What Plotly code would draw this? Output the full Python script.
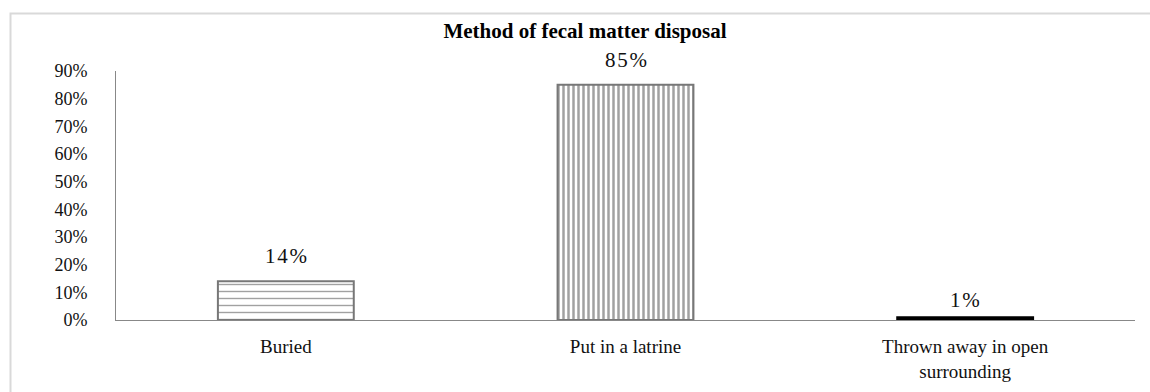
import plotly.graph_objects as go

# Survey result: how fecal matter is disposed of
categories = ["Buried", "Put in a latrine", "Thrown away in open<br>surrounding"]
shares = [0.14, 0.85, 0.01]
patterns = ["-", "|", ""]
pattern_sizes = [7, 5, 8]
pattern_solidity = [0.2, 0.5, 0.3]
label_shift = [11, 11, 3]
tick_values = [0, 0.1, 0.2, 0.3, 0.4, 0.5, 0.6, 0.7, 0.8, 0.9]

serif = "Liberation Serif, Times New Roman, serif"


def spaced(s):
    # widen the value labels a little with hair spaces between characters
    return "\u200a".join(s)


fig = go.Figure(
    go.Bar(
        x=categories,
        y=shares,
        width=0.4,
        marker=dict(
            color=["white", "white", "black"],
            line=dict(color=["#777777", "#777777", "black"], width=2),
            pattern=dict(
                shape=patterns,
                fgcolor="#111111",
                bgcolor="white",
                size=pattern_sizes,
                solidity=pattern_solidity,
                fillmode="overlay",
            ),
        ),
        hoverinfo="x+y",
    )
)

# value labels above each bar
for cat, val, shift in zip(categories, shares, label_shift):
    fig.add_annotation(
        x=cat,
        y=val,
        text=spaced(f"{val:.0%}"),
        showarrow=False,
        yanchor="bottom",
        yshift=shift,
        font=dict(family=serif, size=21, color="#111111"),
    )

fig.update_layout(
    width=1150,
    height=392,
    margin=dict(l=116, r=15, t=71, b=72),
    paper_bgcolor="white",
    plot_bgcolor="white",
    showlegend=False,
    title=dict(
        text="<b>Method of fecal matter disposal</b>",
        x=585 / 1150,
        xanchor="center",
        y=1 - 31 / 392,
        yanchor="middle",
        font=dict(family=serif, size=21, color="black"),
    ),
    font=dict(family=serif, color="#111111"),
)

fig.update_xaxes(
    showline=True,
    linecolor="#888888",
    linewidth=1,
    showgrid=False,
    ticks="",
    tickfont=dict(family=serif, size=19),
    ticklabelstandoff=9,
    automargin=False,
)

fig.update_yaxes(
    range=[0, 0.9],
    tickvals=tick_values,
    tickformat=".0%",
    showline=True,
    linecolor="#888888",
    linewidth=1,
    showgrid=False,
    zeroline=False,
    ticks="",
    tickfont=dict(family=serif, size=18),
    ticklabelstandoff=24,
    automargin=False,
)

# Light frame around the chart area
fig.add_shape(
    type="rect",
    xref="paper",
    yref="paper",
    x0=-105.5 / 1019,
    x1=1.2,
    y0=-0.5,
    y1=(320 - 13.5) / 249,
    line=dict(color="#d9d9d9", width=2),
    fillcolor="rgba(0,0,0,0)",
    layer="below",
)

fig.write_html("out.html")
